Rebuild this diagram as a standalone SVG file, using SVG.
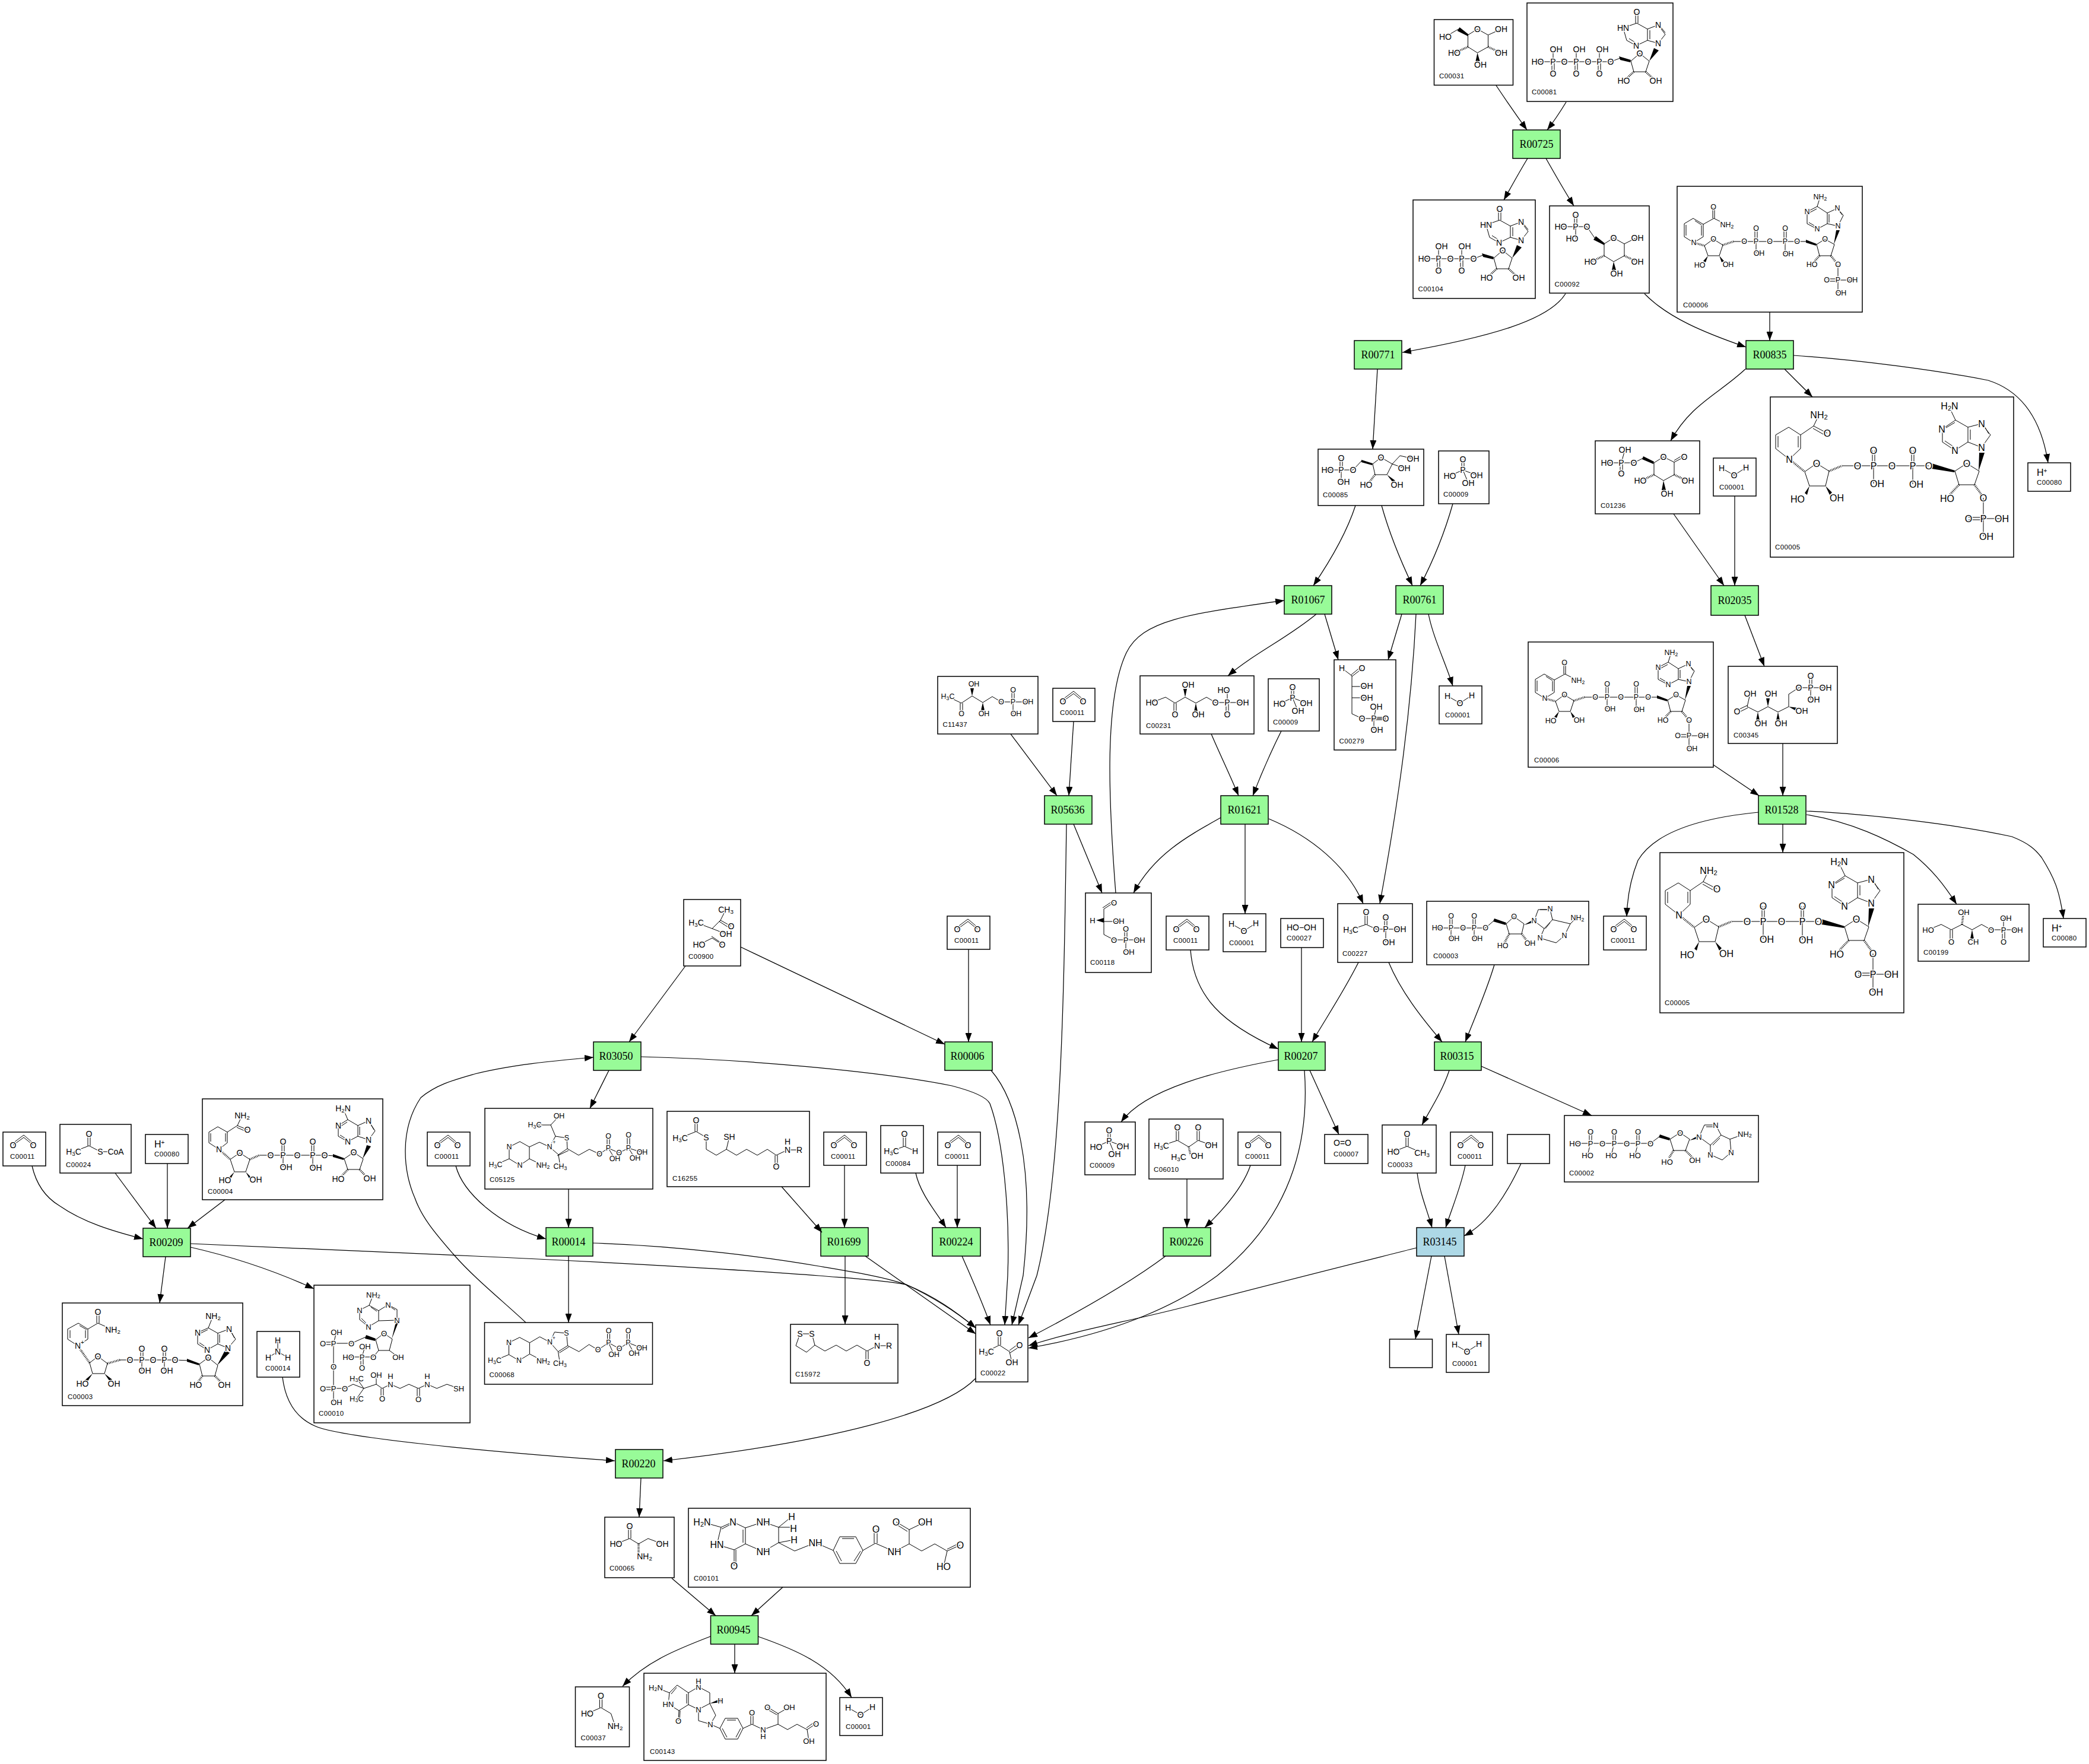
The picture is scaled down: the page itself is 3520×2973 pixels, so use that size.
<svg xmlns="http://www.w3.org/2000/svg" width="3520" height="2973" viewBox="0 0 3520 2973" font-size="14">
<style>
text{font-family:"Liberation Sans",Arial,sans-serif;fill:#000}
.n{fill:#fff;stroke:#000;stroke-width:1.5}
.r{fill:#98fb98;stroke:#000;stroke-width:1.5}
.u{fill:#add8e6;stroke:#000;stroke-width:1.5}
.t{font-family:"Liberation Serif","Times New Roman",serif;font-size:18px;text-anchor:middle}
.i{font-size:11.5px;letter-spacing:.35px}
.b{fill:none;stroke:#000;stroke-width:1}
.h{fill:none;stroke:#000;stroke-width:3.5;stroke-dasharray:1 1.6}
.w{fill:#000;stroke:none}
.m text{text-anchor:middle;dominant-baseline:central;paint-order:stroke;stroke:#fff;stroke-width:3px}
.s{font-size:70%}
.e{fill:none;stroke:#000;stroke-width:1.25;marker-end:url(#a)}
</style>
<defs>
<marker id="a" markerUnits="userSpaceOnUse" markerWidth="15" markerHeight="11" refX="15" refY="5.5" orient="auto"><path d="M0 0L15 5.5L0 11z"/></marker>
<g id="co2" class="m"><path class="b" d="M17 22L35 9L51 22M19 17L35 5L49 17"/><text x="17" y="22">O</text><text x="51" y="22">O</text></g>
<g id="h2o" class="m"><path class="b" d="M14 17L35 29L55 16"/><text x="14" y="17">H</text><text x="55" y="16">H</text><text x="35" y="29">O</text></g>
<g id="pi" class="m"><path class="b" d="M39 14V32M43 14V32M41 32L19 42M41 32L64 41M41 32L50 54"/><text x="41" y="14">O</text><text x="41" y="32">P</text><text x="19" y="42">HO</text><text x="64" y="41">OH</text><text x="50" y="54">OH</text></g>
<g id="glc" class="m"><path class="b" d="M57 26L73 16L91 26V46L73 56L57 46V26"/><path class="w" d="M57 28L39 19L43 13L58 25zM73 56L70 70H77z"/><path class="h" d="M57 46L37 55M91 46L110 55"/><text x="73" y="16">O</text><text x="34" y="56">HO</text><text x="113" y="56">OH</text><text x="78" y="76">OH</text></g>
<g id="rI" class="m"><path class="b" d="M141 99L157 93M175 98L190 85L206 98L200 116H180L175 98M221 68L233 53L221 37L203 44V63L221 68M203 63L184 72L168 63L162 42L185 34L203 44M183 34V15M187 34V15M207 46V61M172 60L183 67M224 39L233 50"/><path class="w" d="M155 90L175 96L174 100L157 96zM206 98L214 76L222 80z"/><path class="h" d="M180 116L167 128M200 116L213 128"/><text x="141" y="99">O</text><text x="190" y="85">O</text><text x="163" y="131">HO</text><text x="217" y="131">OH</text><text x="221" y="68">N</text><text x="221" y="37">N</text><text x="184" y="72">N</text><text x="162" y="42">HN</text><text x="185" y="15">O</text></g>
<g id="nadph" class="m" font-size="16"><path class="b" d="M32 105L51 87V64L31 51L9 64V87L32 105M47 85V66M13 66V85M51 64L73 49L82 30M73 49L96 61M72 53L93 65M58 126L78 112L99 125L93 150H66L58 126M121 116H267M174 116V146M240 116V147M172 116V90M176 116V90M238 116V90M242 116V90M311 125L331 112L352 125L344 148H318L311 125M359 170V235M334 203H359M334 207H359M359 205H390M356 85L371 64L356 45L333 51V76L356 85M333 76L311 90L290 76V54L312 39L333 51M312 39L302 18M337 55V72M294 74L309 84M296 52L311 43M360 48L368 62"/><path class="h" d="M32 105L58 126M99 125L121 116M318 148L302 165M344 148L356 165"/><path class="w" d="M66 150L58 162L62 165zM93 150L100 165L104 161zM272 112L311 124L310 127L272 121zM351 125L352 94L361 94z"/><text x="32" y="105">N</text><text x="82" y="30">NH<tspan class="s" dy="4">2</tspan></text><text x="96" y="61">O</text><text x="78" y="112">O</text><text x="46" y="172">HO</text><text x="112" y="170">OH</text><text x="147" y="116">O</text><text x="174" y="116">P</text><text x="174" y="90">O</text><text x="180" y="146">OH</text><text x="205" y="116">O</text><text x="240" y="116">P</text><text x="240" y="90">O</text><text x="246" y="147">OH</text><text x="267" y="116">O</text><text x="331" y="112">O</text><text x="298" y="171">HO</text><text x="359" y="170">O</text><text x="359" y="205">P</text><text x="334" y="205">O</text><text x="390" y="205">OH</text><text x="364" y="235">OH</text><text x="356" y="85">N</text><text x="356" y="45">N</text><text x="311" y="90">N</text><text x="289" y="54">N</text><text x="302" y="15">H<tspan class="s" dy="4">2</tspan><tspan dy="-4">N</tspan></text></g>
<g id="nadp" class="m" font-size="12.5"><path class="b" d="M28 95L44 85V64L27 54L12 63V85L28 95M41 83V66M30 58L41 65M15 65V83M44 64L62 54L84 65M60 54V35M63 54V35M46 100L61 89L77 99L71 117H52L46 100M95 93H219M133 93V113M182 93V114M131 93V71M135 93V71M180 93V71M184 93V71M235 98L249 89L265 98L259 117H240L235 98M271 132V180M252 156H271M252 160H271M271 158H295M271 67L280 49L270 37L253 45V63L271 67M253 63L236 72L219 63V43L236 34L253 45M236 34L241 18M256 47V61M222 61L234 68M222 45L235 38M272 40L278 48"/><path class="h" d="M28 95L46 100M77 99L95 93M240 117L230 128M259 117L268 128"/><path class="w" d="M52 117L44 126L48 128zM71 117L79 126L75 128zM217 90L235 97L234 100L217 95zM264 98L268 74L274 74z"/><text x="28" y="95">N</text><text x="84" y="65">NH<tspan class="s" dy="3">2</tspan></text><text x="61" y="35">O</text><text x="61" y="89">O</text><text x="38" y="133">HO</text><text x="86" y="132">OH</text><text x="113" y="93">O</text><text x="133" y="93">P</text><text x="133" y="71">O</text><text x="138" y="113">OH</text><text x="156" y="93">O</text><text x="182" y="93">P</text><text x="182" y="71">O</text><text x="187" y="114">OH</text><text x="202" y="93">O</text><text x="249" y="89">O</text><text x="227" y="132">HO</text><text x="271" y="132">O</text><text x="271" y="158">P</text><text x="252" y="158">O</text><text x="295" y="158">OH</text><text x="276" y="180">OH</text><text x="271" y="67">N</text><text x="270" y="37">N</text><text x="236" y="72">N</text><text x="219" y="43">N</text><text x="241" y="18">NH<tspan class="s" dy="3">2</tspan></text></g>
</defs>
<g id="nodes">
<g id="C00031" transform="translate(2416.5 33)"><rect class="n" width="133" height="110.5"/><use href="#glc"/><g class="m"><path class="b" d="M41 16L19 29M91 26L113 16"/><text x="19" y="29">HO</text><text x="113" y="16">OH</text></g><text class="i" x="8.5" y="99">C00031</text></g>
<g id="C00081" transform="translate(2573 5)"><rect class="n" width="246" height="166"/><g class="m"><path class="b" d="M18 99H141M44 99V82M83 99V82M122 99V82M42 99V119M46 99V119M81 99V119M85 99V119M120 99V119M124 99V119"/><text x="18" y="99">HO</text><text x="44" y="99">P</text><text x="63" y="99">O</text><text x="83" y="99">P</text><text x="103" y="99">O</text><text x="122" y="99">P</text><text x="49" y="78">OH</text><text x="88" y="78">OH</text><text x="127" y="78">OH</text><text x="44" y="119">O</text><text x="83" y="119">O</text><text x="122" y="119">O</text></g><use href="#rI"/><text class="i" x="8" y="154">C00081</text></g>
<g id="R00725"><rect class="r" x="2549" y="219" width="80" height="48"/><text class="t" x="2589" y="249">R00725</text></g>
<g id="C00104" transform="translate(2381 337)"><rect class="n" width="206" height="166"/><g class="m"><path class="b" d="M19 99H102M43 99V82M82 99V82M41 99V119M45 99V119M80 99V119M84 99V119"/><text x="19" y="99">HO</text><text x="43" y="99">P</text><text x="63" y="99">O</text><text x="82" y="99">P</text><text x="48" y="78">OH</text><text x="87" y="78">OH</text><text x="43" y="119">O</text><text x="82" y="119">O</text></g><use href="#rI" transform="translate(-39 0)"/><text class="i" x="8.5" y="154">C00104</text></g>
<g id="C00092" transform="translate(2611 347)"><rect class="n" width="168" height="147"/><use href="#glc" transform="translate(35 38)"/><g class="m"><path class="b" d="M76 54L63 35M19 35H63M44 35V55M42 35V15M46 35V15M126 64L146 54"/><text x="19" y="35">HO</text><text x="44" y="35">P</text><text x="44" y="15">O</text><text x="63" y="35">O</text><text x="38" y="55">HO</text><text x="148" y="54">OH</text></g><text class="i" x="8.5" y="136">C00092</text></g>
<g id="C00006-1" transform="translate(2826 314)"><rect class="n" width="312" height="212"/><use href="#nadp"/><text class="i" x="10" y="204">C00006</text></g>
<g id="R00771"><rect class="r" x="2282" y="574" width="80" height="48"/><text class="t" x="2322" y="604">R00771</text></g>
<g id="R00835"><rect class="r" x="2942" y="574" width="80" height="48"/><text class="t" x="2982" y="604">R00835</text></g>
<g id="C00085" transform="translate(2221 757)"><rect class="n" width="178" height="95"/><g class="m"><path class="b" d="M16 35H59M39 35V55M37 35V15M41 35V15M59 35L73 20M92 25L106 14L125 25L116 43H96L92 25M125 25L138 11L160 16M125 25L145 32"/><path class="w" d="M73 18L92 24L91 27L73 22zM116 43L126 56L130 53z"/><path class="h" d="M96 43L86 56"/><text x="16" y="35">HO</text><text x="39" y="35">P</text><text x="39" y="15">O</text><text x="59" y="35">O</text><text x="43" y="55">OH</text><text x="106" y="14">O</text><text x="160" y="16">OH</text><text x="145" y="32">OH</text><text x="81" y="60">HO</text><text x="133" y="60">OH</text></g><text class="i" x="8" y="81">C00085</text></g>
<g id="C00009-1" transform="translate(2424 760)"><rect class="n" width="85" height="89"/><use href="#pi"/><text class="i" x="8" y="77">C00009</text></g>
<g id="C01236" transform="translate(2688 743)"><rect class="n" width="176" height="123"/><g class="m"><path class="b" d="M20 37H65M44 37L50 15M42 37V55M46 37V55M65 37L81 29M99 37L115 27L133 36V57L115 67L99 57V37M133 36L150 27M133 33L148 24"/><path class="w" d="M81 26L99 35L98 39L79 31zM115 67L112 83H119z"/><path class="h" d="M99 57L80 66M133 57L152 66"/><text x="20" y="37">HO</text><text x="44" y="37">P</text><text x="50" y="15">OH</text><text x="44" y="55">O</text><text x="65" y="37">O</text><text x="115" y="27">O</text><text x="150" y="27">O</text><text x="76" y="67">HO</text><text x="156" y="67">OH</text><text x="121" y="89">OH</text></g><text class="i" x="9" y="113">C01236</text></g>
<g id="C00001-1" transform="translate(2887 772)"><rect class="n" width="72" height="64"/><use href="#h2o"/><text class="i" x="10" y="53">C00001</text></g>
<g id="C00005-1" transform="translate(2983 669)"><rect class="n" width="410" height="270"/><use href="#nadph"/><text class="i" x="8" y="257">C00005</text></g>
<g id="C00080-1" transform="translate(3417 780)"><rect class="n" width="72" height="48"/><text x="15" y="22" font-size="16">H<tspan font-size="10" dy="-5">+</tspan></text><text class="i" x="15" y="37">C00080</text></g>
<g id="R01067"><rect class="r" x="2164" y="987" width="80" height="48"/><text class="t" x="2204" y="1017">R01067</text></g>
<g id="R00761"><rect class="r" x="2352" y="987" width="80" height="48"/><text class="t" x="2392" y="1017">R00761</text></g>
<g id="R02035"><rect class="r" x="2883" y="987" width="80" height="50"/><text class="t" x="2923" y="1018">R02035</text></g>
<g id="C00279" transform="translate(2248 1112)"><rect class="n" width="104" height="152"/><g class="m"><path class="b" d="M13 14L30 27V91L47 99H87M30 45H55M30 64H55M28 26L45 12M30 28L47 15M67 99V118M67 99L71 79M67 97H87M67 101H87"/><text x="13" y="14">H</text><text x="47" y="14">O</text><text x="55" y="44">OH</text><text x="55" y="64">OH</text><text x="47" y="99">O</text><text x="67" y="99">P</text><text x="71" y="79">OH</text><text x="87" y="99">O</text><text x="72" y="118">OH</text></g><text class="i" x="8.5" y="141">C00279</text></g>
<g id="C00231" transform="translate(1921 1139)"><rect class="n" width="192" height="98"/><g class="m"><path class="b" d="M20 45L43 36L59 46L76 36L94 46L112 36L127 45H147M57 46V65M61 46V65M147 45V24M147 45H173M145 45V65M149 45V65"/><path class="w" d="M76 36L73 22H79zM94 46L91 60H97z"/><text x="20" y="45">HO</text><text x="59" y="65">O</text><text x="81" y="15">OH</text><text x="98" y="65">OH</text><text x="127" y="45">O</text><text x="147" y="45">P</text><text x="141" y="24">HO</text><text x="173" y="45">OH</text><text x="147" y="65">O</text></g><text class="i" x="10" y="88">C00231</text></g>
<g id="C00009-2" transform="translate(2137 1144)"><rect class="n" width="86" height="88"/><use href="#pi"/><text class="i" x="8" y="77">C00009</text></g>
<g id="C00001-2" transform="translate(2425 1156)"><rect class="n" width="72" height="64"/><use href="#h2o"/><text class="i" x="10" y="53">C00001</text></g>
<g id="C11437" transform="translate(1580 1140)"><rect class="n" width="169" height="97"/><g class="m" font-size="12.5"><path class="b" d="M17 34L40 45L58 33L76 44L92 34L107 43H152M38 45V63M42 45V63M127 43V63M125 43V23M129 43V23"/><path class="w" d="M58 33L55 20H61zM76 44L73 57H79z"/><text x="17" y="34">H<tspan class="s" dy="3">3</tspan><tspan dy="-3">C</tspan></text><text x="40" y="63">O</text><text x="61" y="13">OH</text><text x="78" y="63">OH</text><text x="107" y="43">O</text><text x="127" y="43">P</text><text x="127" y="23">O</text><text x="152" y="43">OH</text><text x="132" y="63">OH</text></g><text class="i" x="8.5" y="85">C11437</text></g>
<g id="C00011-1" transform="translate(1774 1160)"><rect class="n" width="71" height="56"/><use href="#co2"/><text class="i" x="12" y="45">C00011</text></g>
<g id="C00345" transform="translate(2912 1123)"><rect class="n" width="184" height="130"/><g class="m"><path class="b" d="M15 74L32 66M17 78L33 70M32 68L37 46M32 68L50 77L67 68L84 77L102 68V47L119 36H164M139 36V56M137 36V16M141 36V16"/><path class="w" d="M50 77L47 91H53zM67 68L64 54H70zM84 77L81 91H87zM102 68L118 70L116 76z"/><text x="15" y="76">O</text><text x="37" y="46">OH</text><text x="55" y="96">OH</text><text x="72" y="46">OH</text><text x="89" y="96">OH</text><text x="124" y="75">OH</text><text x="119" y="36">O</text><text x="139" y="36">P</text><text x="139" y="16">O</text><text x="164" y="36">OH</text><text x="144" y="56">OH</text></g><text class="i" x="9" y="120">C00345</text></g>
<g id="C00006-2" transform="translate(2575 1082)"><rect class="n" width="312" height="211"/><use href="#nadp"/><text class="i" x="10" y="203">C00006</text></g>
<g id="R05636"><rect class="r" x="1760" y="1341" width="80" height="48"/><text class="t" x="1799" y="1371">R05636</text></g>
<g id="R01621"><rect class="r" x="2057" y="1341" width="80" height="48"/><text class="t" x="2097" y="1371">R01621</text></g>
<g id="R01528"><rect class="r" x="2963" y="1341" width="80" height="48"/><text class="t" x="3002" y="1371">R01528</text></g>
<g id="C00118" transform="translate(1829 1505)"><rect class="n" width="111" height="134"/><g class="m" font-size="13"><path class="b" d="M48 16L31 27V70L48 79H91M47 13L29 25M31 48H56M68 79V99M66 79V60M70 79V60"/><path class="w" d="M18 46L31 42V50z"/><text x="12" y="46">H</text><text x="48" y="16">O</text><text x="56" y="47">OH</text><text x="48" y="79">O</text><text x="68" y="79">P</text><text x="68" y="60">O</text><text x="91" y="79">OH</text><text x="73" y="99">OH</text></g><text class="i" x="8" y="121">C00118</text></g>
<g id="C00011-2" transform="translate(1965 1544)"><rect class="n" width="72" height="57"/><use href="#co2"/><text class="i" x="12" y="45">C00011</text></g>
<g id="C00001-3" transform="translate(2061 1540)"><rect class="n" width="72" height="64"/><use href="#h2o"/><text class="i" x="10" y="53">C00001</text></g>
<g id="C00027" transform="translate(2158 1548)"><rect class="n" width="72" height="49"/><g class="m"><text x="35" y="15">HO−OH</text></g><text class="i" x="10" y="37">C00027</text></g>
<g id="C00227" transform="translate(2254 1523)"><rect class="n" width="126" height="99"/><g class="m"><path class="b" d="M22 44L48 35L65 43H105M46 35V14M50 35V14M81 43V65M79 43V23M83 43V23"/><text x="22" y="44">H<tspan class="s" dy="3">3</tspan><tspan dy="-3">C</tspan></text><text x="48" y="14">O</text><text x="65" y="43">O</text><text x="81" y="43">P</text><text x="81" y="23">O</text><text x="105" y="43">OH</text><text x="86" y="65">OH</text></g><text class="i" x="8" y="88">C00227</text></g>
<g id="C00003-2" transform="translate(2404 1519)"><rect class="n" width="273" height="107"/><g class="m" font-size="12.5"><path class="b" d="M18 45H99M41 45V63M80 45V63M39 45V25M43 45V25M78 45V25M82 45V25M99 45L114 32M134 38L147 26L164 38L160 55H139L134 38M181 33L188 14H208L212 31L198 46L181 33M212 31L242 38L232 58L218 70L191 62L198 46M242 38L252 28M191 14H206M208 36L200 46"/><path class="w" d="M114 29L134 36L133 40L112 34zM164 40L181 30L182 35z"/><path class="h" d="M139 55L131 70M160 55L170 68"/><text x="18" y="45">HO</text><text x="41" y="45">P</text><text x="41" y="25">O</text><text x="46" y="63">OH</text><text x="61" y="45">O</text><text x="80" y="45">P</text><text x="80" y="25">O</text><text x="85" y="63">OH</text><text x="99" y="45">O</text><text x="147" y="26">O</text><text x="128" y="75">HO</text><text x="174" y="71">OH</text><text x="181" y="33">N</text><text x="208" y="13">N</text><text x="232" y="58">N</text><text x="191" y="62">N</text><text x="254" y="28">NH<tspan class="s" dy="3">2</tspan></text></g><text class="i" x="11" y="96">C00003</text></g>
<g id="C00011-3" transform="translate(2702 1544)"><rect class="n" width="72" height="57"/><use href="#co2"/><text class="i" x="12" y="45">C00011</text></g>
<g id="C00005-2" transform="translate(2797 1437)"><rect class="n" width="411" height="270"/><use href="#nadph"/><text class="i" x="8" y="257">C00005</text></g>
<g id="C00199" transform="translate(3232 1524)"><rect class="n" width="187" height="96"/><g class="m" font-size="13"><path class="b" d="M17 43L39 34L56 43L74 34L91 43L107 34L123 43H167M54 43V63M58 43V63M144 43V23M142 43V63M146 43V63"/><path class="h" d="M74 34L76 18"/><path class="w" d="M91 43L88 58H94z"/><text x="17" y="43">HO</text><text x="56" y="63">O</text><text x="77" y="13">OH</text><text x="93" y="63">CH</text><text x="123" y="43">O</text><text x="144" y="43">P</text><text x="148" y="23">OH</text><text x="144" y="63">O</text><text x="167" y="43">OH</text></g><text class="i" x="9" y="85">C00199</text></g>
<g id="C00080-2" transform="translate(3443 1548)"><rect class="n" width="72" height="48"/><text x="14" y="22" font-size="16">H<tspan font-size="10" dy="-5">+</tspan></text><text class="i" x="14" y="37">C00080</text></g>
<g id="C00900" transform="translate(1152 1516)"><rect class="n" width="96" height="112"/><g class="m"><path class="b" d="M71 17L62 35L48 49L21 39M62 35L80 45M60 37L77 48M48 49L71 58M26 76L48 65L65 76M47 62L63 73"/><text x="71" y="17">CH<tspan class="s" dy="3">3</tspan></text><text x="21" y="39">H<tspan class="s" dy="3">3</tspan><tspan dy="-3">C</tspan></text><text x="80" y="45">O</text><text x="71" y="58">OH</text><text x="26" y="76">HO</text><text x="65" y="76">O</text></g><text class="i" x="8" y="100">C00900</text></g>
<g id="C00011-4" transform="translate(1596 1544)"><rect class="n" width="72" height="56"/><use href="#co2"/><text class="i" x="12" y="45">C00011</text></g>
<g id="R03050"><rect class="r" x="1000" y="1756" width="80" height="48"/><text class="t" x="1038" y="1786">R03050</text></g>
<g id="R00006"><rect class="r" x="1592" y="1756" width="80" height="48"/><text class="t" x="1630" y="1786">R00006</text></g>
<g id="R00207"><rect class="r" x="2154" y="1756" width="79" height="48"/><text class="t" x="2192" y="1786">R00207</text></g>
<g id="R00315"><rect class="r" x="2417" y="1756" width="79" height="48"/><text class="t" x="2455" y="1786">R00315</text></g>
<g id="C05125" transform="translate(817 1868)"><rect class="n" width="283" height="136"/><g class="m" font-size="12.5"><path class="b" d="M41 65L59 56L75 65V85L59 96L41 85V65M41 85L18 95M75 85L98 96M75 65L92 57L109 65L119 47L138 50L139 68L124 78L109 65M122 80L141 71M124 78L127 98M139 68L158 79L176 69L193 77L208 67L226 75L242 67L265 74M208 67L219 85M242 67L253 84M206 67V47M210 67V47M240 67V45M244 67V45M119 47L111 28L84 28M111 28L125 13"/><text x="41" y="65">N</text><text x="59" y="96">N</text><text x="18" y="95">H<tspan class="s" dy="3">3</tspan><tspan dy="-3">C</tspan></text><text x="98" y="96">NH<tspan class="s" dy="3">2</tspan></text><text x="109" y="65">N</text><text x="117" y="57" font-size="9">+</text><text x="138" y="50">S</text><text x="127" y="98">CH<tspan class="s" dy="3">3</tspan></text><text x="84" y="28">H<tspan class="s" dy="3">3</tspan><tspan dy="-3">C</tspan></text><text x="125" y="13">OH</text><text x="193" y="77">O</text><text x="208" y="67">P</text><text x="208" y="47">O</text><text x="219" y="85">OH</text><text x="226" y="75">O</text><text x="242" y="67">P</text><text x="242" y="45">O</text><text x="253" y="84">OH</text><text x="265" y="74">OH</text></g><text class="i" x="8" y="124">C05125</text></g>
<g id="C16255" transform="translate(1124 1873)"><rect class="n" width="240" height="127"/><g class="m"><path class="b" d="M22 45L49 34L66 44V64L83 74L100 64L117 74L134 64L152 74L169 64L184 74L203 65H223M47 34V15M51 34V15M182 74V93M186 74V93M100 64L105 43"/><text x="22" y="45">H<tspan class="s" dy="3">3</tspan><tspan dy="-3">C</tspan></text><text x="49" y="15">O</text><text x="66" y="44">S</text><text x="105" y="43">SH</text><text x="184" y="93">O</text><text x="203" y="65">N</text><text x="203" y="51">H</text><text x="223" y="65">R</text></g><text class="i" x="9" y="117">C16255</text></g>
<g id="C00011-5" transform="translate(1388 1908)"><rect class="n" width="72" height="56"/><use href="#co2"/><text class="i" x="12" y="45">C00011</text></g>
<g id="C00084" transform="translate(1484 1897)"><rect class="n" width="72" height="80"/><g class="m"><path class="b" d="M38 14V35M42 14V35M18 43L40 35L58 43"/><text x="40" y="14">O</text><text x="18" y="43">H<tspan class="s" dy="3">3</tspan><tspan dy="-3">C</tspan></text><text x="58" y="43">H</text></g><text class="i" x="8" y="68">C00084</text></g>
<g id="C00011-6" transform="translate(1580 1908)"><rect class="n" width="72" height="56"/><use href="#co2"/><text class="i" x="12" y="45">C00011</text></g>
<g id="C00009-3" transform="translate(1828 1891)"><rect class="n" width="85" height="89"/><use href="#pi"/><text class="i" x="8" y="77">C00009</text></g>
<g id="C06010" transform="translate(1936 1886)"><rect class="n" width="125" height="101"/><g class="m"><path class="b" d="M46 14V36M50 14V36M21 45L48 36L67 47L83 36L105 44M81 14V36M85 14V36"/><path class="h" d="M67 47L70 60"/><text x="48" y="14">O</text><text x="83" y="14">O</text><text x="21" y="45">H<tspan class="s" dy="3">3</tspan><tspan dy="-3">C</tspan></text><text x="105" y="44">OH</text><text x="50" y="64">H<tspan class="s" dy="3">3</tspan><tspan dy="-3">C</tspan></text><text x="81" y="62">OH</text></g><text class="i" x="8" y="89">C06010</text></g>
<g id="C00011-7" transform="translate(2086 1908)"><rect class="n" width="72" height="56"/><use href="#co2"/><text class="i" x="12" y="45">C00011</text></g>
<g id="C00007" transform="translate(2232 1912)"><rect class="n" width="73" height="49"/><g class="m"><text x="30" y="14">O=O</text></g><text class="i" x="15" y="37">C00007</text></g>
<g id="C00033" transform="translate(2329 1896)"><rect class="n" width="91" height="81"/><g class="m"><path class="b" d="M40 15V36M44 15V36M19 45L42 36L67 47"/><text x="42" y="15">O</text><text x="19" y="45">HO</text><text x="67" y="47">CH<tspan class="s" dy="3">3</tspan></text></g><text class="i" x="9" y="71">C00033</text></g>
<g id="C00011-8" transform="translate(2444 1908)"><rect class="n" width="71" height="56"/><use href="#co2"/><text class="i" x="12" y="45">C00011</text></g>
<g id="blank-1"><rect class="n" x="2540" y="1912" width="71" height="49"/></g>
<g id="C00002" transform="translate(2636 1880)"><rect class="n" width="327" height="112"/><g class="m" font-size="13"><path class="b" d="M18 47H145M44 47L39 67M84 47L79 67M124 47L119 67M42 47V27M46 47V27M82 47V27M86 47V27M122 47V27M126 47V27M145 47L161 35M178 40L195 29L211 40L204 59H184L178 40M227 36L236 16H255L264 33L246 50L227 36M264 33L279 40L281 62L266 75L246 66L246 50M279 40L304 31M239 19H253M262 38L250 50"/><path class="w" d="M161 32L178 38L177 42L159 37zM211 42L227 33L228 38z"/><path class="h" d="M184 59L176 72M204 59L216 71"/><text x="18" y="47">HO</text><text x="44" y="47">P</text><text x="44" y="27">O</text><text x="39" y="67">HO</text><text x="64" y="47">O</text><text x="84" y="47">P</text><text x="84" y="27">O</text><text x="79" y="67">HO</text><text x="105" y="47">O</text><text x="124" y="47">P</text><text x="124" y="27">O</text><text x="119" y="67">HO</text><text x="145" y="47">O</text><text x="195" y="29">O</text><text x="173" y="78">HO</text><text x="220" y="75">OH</text><text x="227" y="36">N</text><text x="255" y="16">N</text><text x="304" y="31">NH<tspan class="s" dy="3">2</tspan></text><text x="281" y="62">N</text><text x="246" y="66">N</text></g><text class="i" x="8" y="101">C00002</text></g>
<g id="C00011-9" transform="translate(5 1908)"><rect class="n" width="72" height="57"/><use href="#co2"/><text class="i" x="12" y="45">C00011</text></g>
<g id="C00024" transform="translate(101 1895)"><rect class="n" width="120" height="82"/><g class="m"><path class="b" d="M47 16V36M51 16V36M23 46L49 36L68 46H80"/><text x="49" y="16">O</text><text x="23" y="46">H<tspan class="s" dy="3">3</tspan><tspan dy="-3">C</tspan></text><text x="68" y="46">S</text><text x="94" y="46">CoA</text></g><text class="i" x="10" y="72">C00024</text></g>
<g id="C00080-3" transform="translate(245 1912)"><rect class="n" width="72" height="49"/><text x="15" y="22" font-size="16">H<tspan font-size="10" dy="-5">+</tspan></text><text class="i" x="15" y="37">C00080</text></g>
<g id="C00004" transform="translate(341 1852)"><rect class="n" width="304" height="170"/><g class="m"><path class="b" d="M28 85L42 74V56L26 47L11 56V74L28 85M39 72V58M14 58V72M42 56L59 45L67 28M59 45L76 52M58 48L74 55M47 102L63 91L80 102L73 123H54L47 102M96 95H206M136 95V115M186 95V116M134 95V72M138 95V72M184 95V72M188 95V72M206 95L222 96M239 101L255 90L271 101L265 119H245L239 101M262 45V63L280 69L291 54L280 37L262 45M262 63L245 72L229 63V45L245 35L262 45M245 35L237 16M265 47V61M232 61L243 68M232 47L244 39M282 40L289 52"/><path class="h" d="M28 85L47 102M80 102L96 95M245 119L234 131M265 119L276 131"/><path class="w" d="M54 123L44 133L47 136zM73 123L83 133L80 136zM220 93L239 100L238 103L220 98zM270 101L277 78L284 80z"/><text x="28" y="85">N</text><text x="67" y="28">NH<tspan class="s" dy="3">2</tspan></text><text x="76" y="52">O</text><text x="63" y="91">O</text><text x="38" y="137">HO</text><text x="90" y="136">OH</text><text x="115" y="95">O</text><text x="136" y="95">P</text><text x="136" y="72">O</text><text x="141" y="115">OH</text><text x="160" y="95">O</text><text x="186" y="95">P</text><text x="186" y="72">O</text><text x="191" y="116">OH</text><text x="206" y="95">O</text><text x="255" y="90">O</text><text x="229" y="135">HO</text><text x="282" y="134">OH</text><text x="280" y="69">N</text><text x="280" y="37">N</text><text x="245" y="72">N</text><text x="229" y="45">N</text><text x="237" y="16">H<tspan class="s" dy="3">2</tspan><tspan dy="-3">N</tspan></text></g><text class="i" x="9" y="160">C00004</text></g>
<g id="C00011-10" transform="translate(720 1908)"><rect class="n" width="72" height="57"/><use href="#co2"/><text class="i" x="12" y="45">C00011</text></g>
<g id="R00209"><rect class="r" x="241" y="2070" width="80" height="48"/><text class="t" x="280" y="2100">R00209</text></g>
<g id="R00014"><rect class="r" x="920" y="2069" width="79" height="48"/><text class="t" x="958" y="2099">R00014</text></g>
<g id="R01699"><rect class="r" x="1383" y="2069" width="80" height="48"/><text class="t" x="1422" y="2099">R01699</text></g>
<g id="R00224"><rect class="r" x="1571" y="2069" width="81" height="48"/><text class="t" x="1611" y="2099">R00224</text></g>
<g id="R00226"><rect class="r" x="1960" y="2069" width="80" height="48"/><text class="t" x="1999" y="2099">R00226</text></g>
<g id="R03145"><rect class="u" x="2387" y="2069" width="80" height="48"/><text class="t" x="2426" y="2099">R03145</text></g>
<g id="C00003-1" transform="translate(105 2196)"><rect class="n" width="304" height="173"/><g class="m"><path class="b" d="M26 72L43 61V44L27 34L9 44V61L26 72M39 59V46M13 46V59M29 38L41 45M43 44L60 34L85 45M58 34V15M62 34V15M46 101L60 90L76 102L71 119H51L46 101M97 96H190M134 96V114M172 96V114M132 96V77M136 96V77M170 96V77M174 96V77M190 96L212 97M231 103L246 92L262 105L257 123H236L231 103M262 51V69L279 76L292 61L281 44L262 51M262 69L244 79L228 69V50L246 42L262 51M246 42L254 22M265 53V67M231 67L243 75M231 52L245 45M284 47L290 59"/><path class="h" d="M26 72L46 101M76 102L97 96M236 123L228 134M257 123L268 134"/><path class="w" d="M51 119L38 130L42 133zM71 119L80 132L84 129zM210 94L231 102L230 105L210 99zM261 105L274 80L282 84z"/><text x="26" y="72">N</text><text x="34" y="66" font-size="10">+</text><text x="60" y="15">O</text><text x="85" y="45">NH<tspan class="s" dy="3">2</tspan></text><text x="60" y="90">O</text><text x="34" y="136">HO</text><text x="87" y="136">OH</text><text x="114" y="96">O</text><text x="134" y="96">P</text><text x="134" y="77">O</text><text x="139" y="114">OH</text><text x="153" y="96">O</text><text x="172" y="96">P</text><text x="172" y="77">O</text><text x="176" y="114">OH</text><text x="190" y="96">O</text><text x="246" y="92">O</text><text x="225" y="138">HO</text><text x="273" y="138">OH</text><text x="279" y="76">N</text><text x="281" y="44">N</text><text x="244" y="79">N</text><text x="228" y="50">N</text><text x="254" y="22">NH<tspan class="s" dy="3">2</tspan></text></g><text class="i" x="9" y="162">C00003</text></g>
<g id="C00010" transform="translate(529 2166)"><rect class="n" width="263" height="232"/><g class="m" font-size="13"><path class="b" d="M100 16L93 34L77 42V58L92 70L109 60V43L93 34M109 43L125 33L140 41V59L109 60M128 36L137 42M96 37L106 44M80 56L90 66M104 92L118 81L132 91L127 110H109L104 92M63 98H33V197M15 96H33M15 100H33M33 98L38 79M63 98L88 87M15 172H33M15 176H33M33 174H52L66 167L84 174L105 167L115 174L129 167L145 174L160 167L176 174L191 167L207 174L224 167L244 174M84 174L72 157M84 174L72 191M105 167V151M113 174V191M117 174V191M174 174V192M178 174V192M109 110L100 121H58M81 121L86 103M79 121V139M83 121V139M127 110L142 121"/><path class="w" d="M88 84L104 90L103 94L86 90zM131 91L138 62L142 63z"/><text x="100" y="16">NH<tspan class="s" dy="3">2</tspan></text><text x="77" y="42">N</text><text x="92" y="70">N</text><text x="125" y="33">N</text><text x="140" y="59">N</text><text x="118" y="81">O</text><text x="142" y="121">OH</text><text x="63" y="98">O</text><text x="33" y="98">P</text><text x="15" y="98">O</text><text x="38" y="79">OH</text><text x="33" y="137">O</text><text x="33" y="174">P</text><text x="15" y="174">O</text><text x="38" y="197">OH</text><text x="52" y="174">O</text><text x="72" y="157">H<tspan class="s" dy="3">3</tspan><tspan dy="-3">C</tspan></text><text x="72" y="191">H<tspan class="s" dy="3">3</tspan><tspan dy="-3">C</tspan></text><text x="105" y="151">OH</text><text x="115" y="191">O</text><text x="129" y="167">N</text><text x="129" y="153">H</text><text x="176" y="192">O</text><text x="191" y="167">N</text><text x="191" y="153">H</text><text x="244" y="174">SH</text><text x="100" y="121">O</text><text x="81" y="121">P</text><text x="58" y="121">HO</text><text x="86" y="103">OH</text><text x="81" y="139">O</text></g><text class="i" x="8" y="220">C00010</text></g>
<g id="C00014" transform="translate(433 2244)"><rect class="n" width="72" height="77"/><g class="m"><path class="b" d="M35 15V34L19 44M35 34L52 44"/><text x="35" y="15">H</text><text x="35" y="34">N</text><text x="19" y="44">H</text><text x="52" y="44">H</text></g><text class="i" x="14" y="66">C00014</text></g>
<g id="C00068" transform="translate(816.5 2229)"><rect class="n" width="283" height="104"/><g class="m" font-size="12.5"><path class="b" d="M41 34L59 25L76 34V53L58 64L41 54V34M41 54L17 64M76 53L99 65M76 34L93 24L110 33L118 16L138 18L140 39L124 49L110 33M126 51L142 41M124 49L127 69M140 39L159 49L176 37L191 46L209 34L227 44L242 34L265 43M209 34L218 54M242 34L252 52M207 34V14M211 34V14M240 34V14M244 34V14"/><text x="41" y="34">N</text><text x="58" y="64">N</text><text x="17" y="64">H<tspan class="s" dy="3">3</tspan><tspan dy="-3">C</tspan></text><text x="99" y="65">NH<tspan class="s" dy="3">2</tspan></text><text x="110" y="33">N</text><text x="117" y="26" font-size="9">+</text><text x="138" y="18">S</text><text x="127" y="69">CH<tspan class="s" dy="3">3</tspan></text><text x="191" y="46">O</text><text x="209" y="34">P</text><text x="209" y="14">O</text><text x="218" y="54">OH</text><text x="227" y="44">O</text><text x="242" y="34">P</text><text x="242" y="14">O</text><text x="252" y="52">OH</text><text x="265" y="43">OH</text></g><text class="i" x="8" y="92">C00068</text></g>
<g id="C15972" transform="translate(1332 2232)"><rect class="n" width="181" height="99"/><g class="m"><path class="b" d="M16 16H36L41 35L27 47L9 36L16 16M41 35L58 45L77 35L94 45L112 35L129 45L146 36H166M127 45V65M131 45V65"/><text x="16" y="16">S</text><text x="36" y="16">S</text><text x="129" y="65">O</text><text x="146" y="36">N</text><text x="146" y="21">H</text><text x="166" y="36">R</text></g><text class="i" x="8" y="88">C15972</text></g>
<g id="C00022" transform="translate(1644 2233)"><rect class="n" width="88" height="96"/><g class="m"><path class="b" d="M38 14V34M42 14V34M18 45L40 34L57 45L61 63M57 43L72 32M58 47L75 36"/><text x="40" y="14">O</text><text x="18" y="45">H<tspan class="s" dy="3">3</tspan><tspan dy="-3">C</tspan></text><text x="74" y="34">O</text><text x="61" y="63">OH</text></g><text class="i" x="8" y="85">C00022</text></g>
<g id="blank-2"><rect class="n" x="2341.5" y="2257" width="72" height="48"/></g>
<g id="C00001-4" transform="translate(2437 2249)"><rect class="n" width="72" height="64"/><use href="#h2o"/><text class="i" x="10" y="53">C00001</text></g>
<g id="R00220"><rect class="r" x="1037" y="2443" width="80" height="48"/><text class="t" x="1076" y="2473">R00220</text></g>
<g id="C00065" transform="translate(1019 2557)"><rect class="n" width="117" height="102"/><g class="m"><path class="b" d="M40 15V36M44 15V36M19 45L42 36L57 45L73 36L97 45"/><path class="h" d="M57 45V60"/><text x="42" y="15">O</text><text x="19" y="45">HO</text><text x="67" y="66">NH<tspan class="s" dy="3">2</tspan></text><text x="97" y="45">OH</text></g><text class="i" x="8" y="90">C00065</text></g>
<g id="C00101" transform="translate(1160 2542)"><rect class="n" width="475" height="133"/><g class="m" font-size="16"><path class="b" d="M23 23L55 32L75 23L96 33V60L77 70L48 61L55 32M77 70V97M80 70V97M92 36V58M56 35L73 26M96 33L126 23L152 32V58L126 73L96 60M152 32L174 14M152 32H177M152 58L178 53M152 58L179 72L214 58L244 71M244 71L255 48H282L294 71L282 93H255L244 71M259 51H279M249 72L258 89M290 72L279 89M294 71L315 59L347 73L372 60V36L399 23M313 59V35M318 59V35M372 36L350 23M369 39L350 27M372 60L393 72L415 60L436 72L458 62M436 72L430 98M436 69L456 59"/><text x="23" y="23">H<tspan class="s" dy="4">2</tspan><tspan dy="-4">N</tspan></text><text x="75" y="23">N</text><text x="48" y="61">HN</text><text x="77" y="97">O</text><text x="126" y="23">NH</text><text x="126" y="73">NH</text><text x="174" y="14">H</text><text x="177" y="34">H</text><text x="178" y="53">H</text><text x="214" y="58">NH</text><text x="316" y="35">O</text><text x="347" y="73">NH</text><text x="350" y="23">O</text><text x="399" y="23">OH</text><text x="458" y="62">O</text><text x="430" y="98">HO</text></g><text class="i" x="9" y="122">C00101</text></g>
<g id="R00945"><rect class="r" x="1197.5" y="2723" width="80" height="48"/><text class="t" x="1236" y="2753">R00945</text></g>
<g id="C00037" transform="translate(969.5 2843)"><rect class="n" width="91" height="101"/><g class="m"><path class="b" d="M41 15V35M45 15V35M20 45L43 35L60 45L67 66"/><text x="43" y="15">O</text><text x="20" y="45">HO</text><text x="67" y="66">NH<tspan class="s" dy="3">2</tspan></text></g><text class="i" x="9" y="90">C00037</text></g>
<g id="C00143" transform="translate(1085 2820)"><rect class="n" width="307" height="147"/><g class="m" font-size="13"><path class="b" d="M20 24L43 33L56 20L75 33V53L59 63L41 52L43 33M59 63L58 80M61 63L60 80M72 35V51M46 35L55 24M75 33L92 23L111 33V51L92 61L75 53M92 61V80L112 86L121 71L111 51M112 86L128 93L137 76H158L167 93L158 111H137L128 93M140 79H155M132 93L140 108M163 93L155 108M167 93L182 86L201 95L226 86V68L245 57M180 86V66M184 86V66M226 68L208 57M224 70L208 61M226 86L242 95L258 86L275 95L290 85M275 95L278 114M274 92L288 82"/><path class="w" d="M111 51L129 43L130 49z"/><text x="20" y="24">H<tspan class="s" dy="3">2</tspan><tspan dy="-3">N</tspan></text><text x="41" y="52">HN</text><text x="58" y="80">O</text><text x="92" y="23">N</text><text x="92" y="13">H</text><text x="129" y="46">H</text><text x="92" y="61">N</text><text x="112" y="86">N</text><text x="182" y="66">O</text><text x="201" y="95">N</text><text x="201" y="106">H</text><text x="208" y="57">O</text><text x="245" y="57">OH</text><text x="290" y="85">O</text><text x="278" y="114">OH</text></g><text class="i" x="10" y="136">C00143</text></g>
<g id="C00001-5" transform="translate(1415 2861)"><rect class="n" width="72" height="64"/><use href="#h2o"/><text class="i" x="10" y="53">C00001</text></g>
</g>
<g id="connectors">
<path class="e" d="M2521 144C2535 165 2552 190 2573 219"/>
<path class="e" d="M2639 172C2628 190 2618 205 2607 219"/>
<path class="e" d="M2574 267C2560 290 2548 312 2534 337"/>
<path class="e" d="M2605 267C2618 290 2635 320 2652 347"/>
<path class="e" d="M2638 495C2610 540 2510 568 2363 594"/>
<path class="e" d="M2771 495C2810 535 2870 560 2942 585"/>
<path class="e" d="M2982 526V574"/>
<path class="e" d="M2321 622L2313 757"/>
<path class="e" d="M2941 622C2895 665 2850 680 2815 743"/>
<path class="e" d="M3007 622L3054 669"/>
<path class="e" d="M3022 599C3130 606 3270 625 3350 641C3410 660 3440 710 3451 780"/>
<path class="e" d="M2284 852C2270 895 2245 940 2213 987"/>
<path class="e" d="M2328 852C2340 895 2360 945 2380 987"/>
<path class="e" d="M2448 849C2435 895 2415 945 2393 987"/>
<path class="e" d="M2218 1035C2170 1075 2115 1100 2069 1139"/>
<path class="e" d="M2232 1035L2255 1112"/>
<path class="e" d="M2362 1035L2339 1112"/>
<path class="e" d="M2407 1035C2415 1075 2435 1115 2448 1156"/>
<path class="e" d="M2386 1035C2378 1200 2355 1360 2325 1523"/>
<path class="e" d="M1703 1237L1781 1341"/>
<path class="e" d="M1809 1216L1801 1341"/>
<path class="e" d="M2041 1237C2055 1270 2072 1305 2087 1341"/>
<path class="e" d="M2159 1232C2140 1270 2125 1305 2111 1341"/>
<path class="e" d="M1797 1389C1793 1650 1790 1980 1747 2150L1716 2233"/>
<path class="e" d="M1809 1389L1857 1505"/>
<path class="e" d="M1880 1505C1868 1350 1860 1180 1898 1100C1925 1045 2000 1035 2164 1012"/>
<path class="e" d="M2057 1378C2000 1410 1945 1440 1910 1505"/>
<path class="e" d="M2098 1389V1540"/>
<path class="e" d="M2138 1380C2210 1410 2270 1460 2297 1523"/>
<path class="e" d="M2006 1601C2012 1680 2060 1725 2154 1768"/>
<path class="e" d="M2193 1597V1756"/>
<path class="e" d="M2289 1622C2265 1670 2235 1715 2211 1756"/>
<path class="e" d="M2340 1622C2360 1670 2395 1715 2430 1756"/>
<path class="e" d="M2518 1626C2505 1670 2485 1715 2469 1756"/>
<path class="e" d="M2154 1786C2050 1805 1930 1835 1889 1891"/>
<path class="e" d="M2198 1804C2205 1900 2190 2040 2051 2150C1990 2195 1890 2245 1733 2272"/>
<path class="e" d="M2207 1804L2256 1912"/>
<path class="e" d="M2442 1804C2430 1840 2410 1870 2396 1896"/>
<path class="e" d="M2496 1797L2682 1880"/>
<path class="e" d="M2388 1977C2392 2010 2405 2040 2413 2069"/>
<path class="e" d="M2469 1964C2462 2000 2445 2040 2436 2069"/>
<path class="e" d="M2563 1961C2540 2010 2510 2060 2467 2083"/>
<path class="e" d="M2387 2103C2300 2125 2100 2175 2007 2200C1900 2228 1820 2240 1733 2268"/>
<path class="e" d="M2412 2117L2385 2257"/>
<path class="e" d="M2434 2117L2458 2249"/>
<path class="e" d="M1155 1628L1060 1756"/>
<path class="e" d="M1248 1596L1592 1760"/>
<path class="e" d="M1632 1600V1756"/>
<path class="e" d="M1026 1804L994 1868"/>
<path class="e" d="M1080 1781C1250 1785 1480 1805 1604 1830C1650 1842 1664 1852 1668 1860C1690 1920 1702 2040 1698 2150L1693 2233"/>
<path class="e" d="M1670 1804C1710 1850 1745 1960 1724 2150L1705 2233"/>
<path class="e" d="M886 2229C850 2195 800 2155 765 2115C730 2075 710 2050 699 2019C680 1975 672 1905 709 1850C735 1828 765 1820 800 1810C860 1795 930 1788 1000 1782"/>
<path class="e" d="M768 1965C780 2010 840 2065 920 2088"/>
<path class="e" d="M958 2004V2069"/>
<path class="e" d="M958 2117V2229"/>
<path class="e" d="M999 2095C1150 2100 1300 2120 1380 2134C1440 2144 1490 2152 1527 2165C1570 2185 1610 2210 1644 2238"/>
<path class="e" d="M321 2096L800 2117C1000 2126 1250 2140 1380 2150C1440 2155 1490 2158 1527 2165C1575 2185 1610 2210 1644 2238"/>
<path class="e" d="M1458 2117L1644 2248"/>
<path class="e" d="M1317 2000L1385 2077"/>
<path class="e" d="M1423 1964V2069"/>
<path class="e" d="M1543 1977C1550 2010 1575 2040 1594 2069"/>
<path class="e" d="M1613 1964V2069"/>
<path class="e" d="M1424 2117V2232"/>
<path class="e" d="M1621 2117C1640 2160 1655 2195 1669 2233"/>
<path class="e" d="M1964 2117C1900 2165 1810 2215 1733 2255"/>
<path class="e" d="M2000 1987V2069"/>
<path class="e" d="M2107 1964C2095 2000 2060 2040 2030 2069"/>
<path class="e" d="M54 1965C62 2000 80 2020 100 2032C140 2060 190 2075 241 2088"/>
<path class="e" d="M194 1977L263 2070"/>
<path class="e" d="M282 1961V2070"/>
<path class="e" d="M379 2022L316 2070"/>
<path class="e" d="M279 2118L269 2196"/>
<path class="e" d="M321 2102C400 2120 470 2145 529 2172"/>
<path class="e" d="M476 2321C482 2370 505 2392 530 2403C570 2422 800 2445 1036 2462"/>
<path class="e" d="M1644 2323C1590 2380 1400 2430 1118 2462"/>
<path class="e" d="M1080 2491L1077 2557"/>
<path class="e" d="M1132 2660L1206 2723"/>
<path class="e" d="M1319 2675L1266 2723"/>
<path class="e" d="M1197 2758C1140 2780 1090 2800 1049 2842"/>
<path class="e" d="M1238 2771V2820"/>
<path class="e" d="M1277 2758C1340 2780 1400 2805 1435 2861"/>
<path class="e" d="M2820 866L2905 987"/>
<path class="e" d="M2923 836V987"/>
<path class="e" d="M2940 1037L2973 1123"/>
<path class="e" d="M3004 1253V1341"/>
<path class="e" d="M2887 1289L2964 1341"/>
<path class="e" d="M2963 1369C2870 1378 2790 1400 2760 1450C2748 1480 2742 1510 2741 1545"/>
<path class="e" d="M3004 1389V1437"/>
<path class="e" d="M3044 1373C3120 1385 3180 1415 3224 1440C3255 1465 3275 1490 3297 1524"/>
<path class="e" d="M3044 1367C3150 1372 3300 1390 3390 1410C3420 1422 3430 1432 3440 1445C3462 1480 3470 1500 3477 1548"/>
</g>
</svg>
